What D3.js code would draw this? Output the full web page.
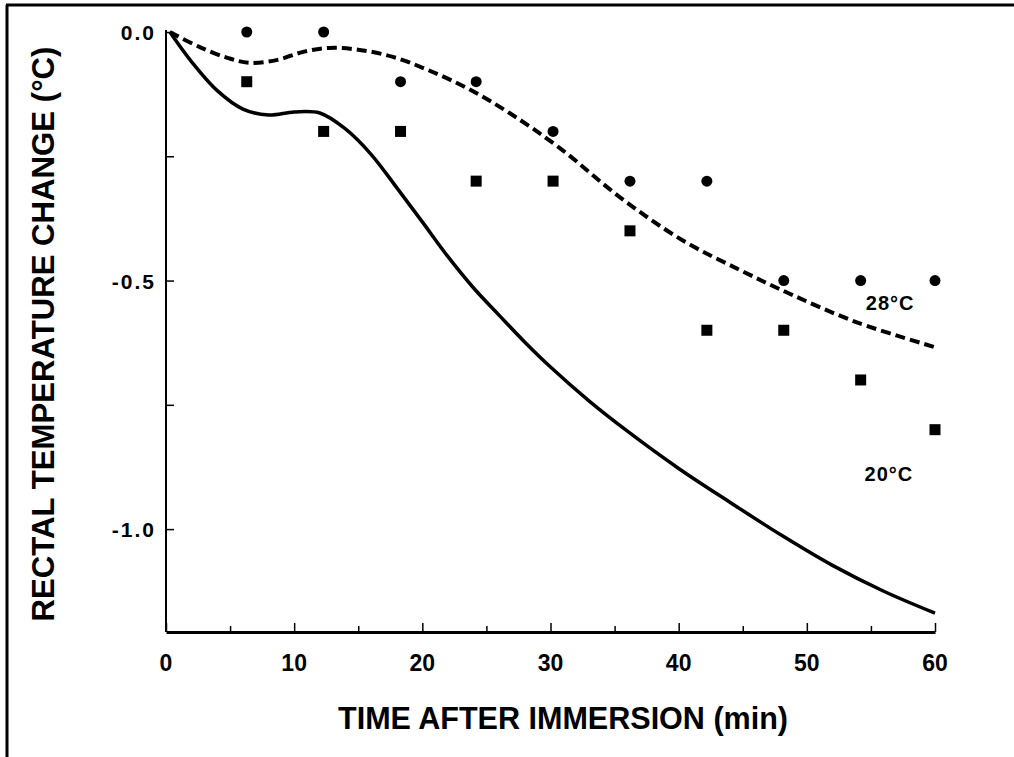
<!DOCTYPE html>
<html>
<head>
<meta charset="utf-8">
<script src="https://cdn.jsdelivr.net/npm/d3@7"></script>
<style>
    body { margin: 0; background: #fff; }
    text { font-family: "Liberation Sans", Arial, Helvetica, sans-serif; font-weight: bold; fill: #000; }
</style>
</head>
<body>
<svg id="chart"></svg>
<script>
// fitted curve, 20 degC water (solid)
const curveTime20 = [0.3, 2, 4, 6, 8, 10, 12, 14, 16, 18, 20, 22, 24, 26, 28, 30, 33, 36, 40, 44, 48, 52, 56, 60];
const curveTemp20 = [0, -0.06, -0.118, -0.155, -0.167, -0.161, -0.163, -0.195, -0.246, -0.313, -0.382, -0.452, -0.515, -0.57, -0.624, -0.674, -0.742, -0.803, -0.878, -0.946, -1.012, -1.073, -1.125, -1.169];

// fitted curve, 28 degC water (dashed)
const curveTime28 = [0.3, 2.6, 4.8, 6.5, 8.7, 10.7, 12.8, 15.1, 17.7, 20.4, 23.5, 26.8, 30.7, 35.5, 40.3, 44.8, 48.7, 53.9, 60];
const curveTemp28 = [0, -0.03, -0.052, -0.062, -0.056, -0.04, -0.032, -0.036, -0.05, -0.076, -0.113, -0.163, -0.233, -0.334, -0.419, -0.479, -0.527, -0.584, -0.634];

// measured points
const pointTime = [6.3, 12.3, 18.3, 24.2, 30.2, 36.2, 42.2, 48.2, 54.2, 60];
const circles28 = [0, 0, -0.1, -0.1, -0.2, -0.3, -0.3, -0.5, -0.5, -0.5];
const squares20 = [-0.1, -0.2, -0.2, -0.3, -0.3, -0.4, -0.6, -0.6, -0.7, -0.8];

const xTicks = [0, 10, 20, 30, 40, 50, 60];
const yTicks = [0, -0.5, -1.0];
const yTickLabels = ["0.0", "-0.5", "-1.0"];

const width = 1014;
const height = 757;

const svg = d3.select("#chart")
                .attr("width", width)
                .attr("height", height);

const x = d3.scaleLinear().domain([0, 60]).range([166, 935]);
const y = d3.scaleLinear().domain([-1.207, 0]).range([632, 32]);

// frame (top and left edge only)
svg.append("line").attr("x1", 6).attr("x2", width).attr("y1", 5).attr("y2", 5)
    .attr("stroke", "#000").attr("stroke-width", 3);
svg.append("line").attr("x1", 7).attr("x2", 7).attr("y1", 5).attr("y2", height)
    .attr("stroke", "#000").attr("stroke-width", 3);

// y axis
const yAxis = d3.axisRight(y)
                .tickValues(d3.range(0, -1.201, -0.25))
                .tickSize(8)
                .tickFormat("");
svg.append("g")
    .attr("transform", `translate(${x(0)},0)`)
    .call(yAxis)
    .call(g => g.select(".domain").attr("d", `M0,${y(0) - 2}V${y.range()[0]}`).attr("stroke-width", 2))
    .call(g => g.selectAll(".tick line").attr("stroke-width", 1.5));

svg.append("g").selectAll("text")
    .data(yTicks)
    .enter()
    .append("text")
    .attr("x", x(0) - 10)
    .attr("y", d => y(d) + 8)
    .attr("text-anchor", "end")
    .attr("font-size", 21)
    .attr("letter-spacing", 2)
    .text((d, i) => yTickLabels[i]);

// x axis
const xAxis = d3.axisTop(x)
                .tickValues(d3.range(0, 61, 5))
                .tickSize(0)
                .tickFormat("");
const xg = svg.append("g")
    .attr("transform", `translate(0,${y.range()[0]})`)
    .call(xAxis);
xg.select(".domain").attr("stroke-width", 3);
xg.selectAll(".tick").append("line")
    .attr("y2", d => d % 10 === 0 ? -9 : -6)
    .attr("stroke", "#000")
    .attr("stroke-width", 1.5);

svg.append("g").selectAll("text")
    .data(xTicks)
    .enter()
    .append("text")
    .attr("x", d => x(d))
    .attr("y", 671)
    .attr("text-anchor", "middle")
    .attr("font-size", 23)
    .text(d => d);

// curves
const line = d3.line()
                .x(d => x(d[0]))
                .y(d => y(d[1]))
                .curve(d3.curveCatmullRom.alpha(0.5));

svg.append("path")
    .datum(d3.zip(curveTime20, curveTemp20))
    .attr("d", line)
    .attr("fill", "none")
    .attr("stroke", "#000")
    .attr("stroke-width", 3.5);

svg.append("path")
    .datum(d3.zip(curveTime28, curveTemp28))
    .attr("d", line)
    .attr("fill", "none")
    .attr("stroke", "#000")
    .attr("stroke-width", 4)
    .attr("stroke-dasharray", "10,5");

// markers
svg.append("g").selectAll("circle")
    .data(d3.zip(pointTime, circles28))
    .enter()
    .append("circle")
    .attr("cx", d => x(d[0]))
    .attr("cy", d => y(d[1]))
    .attr("r", 5.5)
    .attr("fill", "#000");

svg.append("g").selectAll("rect")
    .data(d3.zip(pointTime, squares20))
    .enter()
    .append("rect")
    .attr("x", d => x(d[0]) - 5.5)
    .attr("y", d => y(d[1]) - 5.5)
    .attr("width", 11)
    .attr("height", 11)
    .attr("fill", "#000");

// series labels
svg.append("text")
    .attr("x", x(56.5))
    .attr("y", y(-0.545) + 7)
    .attr("text-anchor", "middle")
    .attr("font-size", 20)
    .attr("letter-spacing", 1)
    .text("28°C");

svg.append("text")
    .attr("x", x(56.4))
    .attr("y", y(-0.89) + 7)
    .attr("text-anchor", "middle")
    .attr("font-size", 20)
    .attr("letter-spacing", 1)
    .text("20°C");

// axis titles
svg.append("text")
    .attr("transform", "translate(54,334) rotate(-90)")
    .attr("text-anchor", "middle")
    .attr("font-size", 32)
    .attr("textLength", 575)
    .attr("lengthAdjust", "spacingAndGlyphs")
    .text("RECTAL TEMPERATURE CHANGE (°C)");

svg.append("text")
    .attr("x", 563)
    .attr("y", 729)
    .attr("text-anchor", "middle")
    .attr("font-size", 32)
    .attr("textLength", 450)
    .attr("lengthAdjust", "spacingAndGlyphs")
    .text("TIME AFTER IMMERSION (min)");
</script>
</body>
</html>
